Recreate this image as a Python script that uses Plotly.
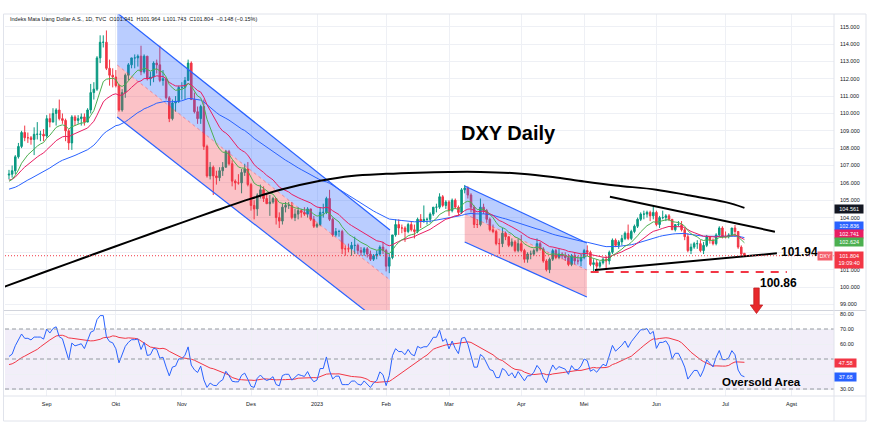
import pandas as pd
import plotly.graph_objects as go

# ---------------- calendar ----------------
start_date = "2022-08-16"
end_date = "2023-07-11"
closed_days = ["2022-12-26"]
warmup_start = "2022-06-01"
warmup_end = "2022-08-15"

# ---------------- daily OHLC (DXY) ----------------
opens = [
    106.45, 106.5, 106.7, 107.5, 108.1, 108.9, 108.6, 108.6, 108.5, 108.8, 108.8, 108.8,
    108.7, 109.7, 109.5, 110.0, 110.2, 109.7, 109.6, 109.0, 108.3, 109.8, 109.6, 109.7, 109.8, 109.5, 110.2, 111.2, 111.4, 113.2, 114.1, 114.1, 112.6, 112.2,
    112.1, 111.6, 110.2, 111.2, 112.2, 112.8, 113.2, 113.2, 113.3, 112.4, 113.3, 112.0, 112.1, 112.9, 112.8, 111.9, 112.0, 110.9, 109.7, 110.6, 110.7,
    111.5, 111.5, 111.9, 112.9, 110.8, 110.1, 109.7, 110.4, 108.1, 106.4, 106.9, 106.4, 106.3, 106.7, 106.9, 107.8, 107.1, 106.1, 106.0, 106.0, 106.6, 106.8,
    105.9, 104.7, 104.5, 105.3, 105.6, 105.1, 104.8, 104.9, 105.1, 104.0, 103.8, 104.6, 104.7, 104.7, 104.0, 104.2, 104.4, 104.3, 104.2, 104.5, 103.9,
    103.5, 103.6, 104.3, 104.3, 105.1, 103.9, 103.0, 103.2, 103.2, 102.2, 102.2, 102.2, 102.4, 102.4, 102.1, 102.0, 102.2, 101.9, 101.6, 101.8, 101.9, 102.3,
    102.1, 101.2, 101.7, 103.0, 103.6, 103.4, 103.4, 103.2, 103.6, 103.3, 103.2, 103.9, 103.8, 103.9, 103.9, 104.2, 104.6, 104.6, 105.2, 104.7,
    104.9, 104.4, 105.0, 104.6, 104.3, 105.6, 105.7, 105.3, 104.6, 103.6, 103.6, 104.6, 104.4, 103.9, 103.3, 103.2, 102.5, 102.5, 103.1, 102.9, 102.4, 102.6, 102.1,
    102.5, 102.1, 101.6, 101.9, 101.9, 102.1, 102.5, 102.2, 101.5, 101.0, 101.6, 102.1, 101.7, 101.9, 101.8, 101.7, 101.3, 101.8, 101.5, 101.5,
    101.7, 102.1, 102.0, 101.3, 101.4, 101.2, 101.4, 101.6, 101.5, 102.0, 102.7, 102.4, 102.6, 102.8, 103.1, 102.8, 103.2, 103.5, 103.9, 104.2, 104.2, 104.3, 104.1,
    104.3, 103.6, 104.0, 104.0, 104.1, 103.9, 103.3, 103.6, 103.6, 103.3, 102.9, 102.1, 102.3, 102.5, 102.5, 102.1, 102.4, 102.9, 102.7, 102.5, 103.0, 103.4,
    102.9, 102.9, 103.0, 103.4, 103.2, 102.3, 101.941,
]
highs = [
    106.75, 107.0, 107.6, 108.3, 109.0, 109.3, 108.9, 108.7, 109.2, 109.5, 109.0, 109.1,
    109.9, 110.0, 110.3, 110.3, 110.8, 110.0, 109.7, 109.1, 109.9, 109.9, 109.9, 110.0, 110.0, 110.3, 111.7, 111.8, 113.3, 114.5, 114.5, 114.78, 113.1, 112.6,
    112.5, 111.7, 111.4, 112.3, 112.9, 113.2, 113.4, 113.4, 113.9, 113.4, 113.3, 112.4, 113.0, 113.1, 113.9, 112.5, 112.0, 111.0, 110.8, 111.0, 111.6,
    111.8, 112.1, 113.1, 113.0, 111.2, 110.4, 110.5, 110.8, 108.2, 107.2, 107.0, 106.7, 106.9, 107.2, 107.9, 107.9, 107.3, 106.2, 106.5, 106.8, 107.1, 107.2,
    106.0, 105.0, 105.4, 105.9, 105.8, 105.4, 105.3, 105.2, 105.1, 104.3, 104.8, 104.9, 104.9, 104.9, 104.5, 104.6, 104.5, 104.6, 104.6, 104.5, 104.1,
    103.7, 104.6, 104.8, 105.2, 105.6, 104.0, 103.4, 103.3, 103.3, 102.4, 102.5, 102.6, 102.9, 102.5, 102.3, 102.3, 102.3, 102.1, 101.9, 102.1, 102.4, 102.6,
    102.2, 101.9, 103.0, 103.9, 103.9, 103.6, 103.5, 103.7, 103.8, 103.6, 104.0, 104.2, 104.7, 104.0, 104.3, 104.6, 104.8, 105.4, 105.3, 105.0,
    105.0, 105.1, 105.1, 104.7, 105.7, 105.88, 105.8, 105.4, 104.7, 103.9, 105.1, 104.8, 104.5, 104.0, 103.6, 103.3, 102.8, 103.4, 103.2, 102.9, 102.8, 102.7, 102.8,
    103.0, 102.2, 102.0, 102.1, 102.2, 102.8, 102.6, 102.3, 101.6, 101.7, 102.2, 102.2, 102.2, 102.0, 102.0, 101.9, 101.9, 102.0, 101.8, 101.9,
    102.2, 102.4, 102.1, 101.6, 101.6, 101.5, 101.7, 101.8, 102.1, 102.8, 102.8, 102.7, 103.0, 103.2, 103.6, 103.3, 103.6, 104.0, 104.3, 104.4, 104.4, 104.4, 104.7,
    104.4, 104.1, 104.4, 104.2, 104.2, 103.9, 103.6, 103.8, 103.8, 103.4, 103.1, 102.5, 102.6, 102.7, 102.7, 102.6, 103.0, 102.9, 102.8, 103.1, 103.5, 103.5,
    103.2, 103.1, 103.4, 103.57, 103.2, 102.4, 101.964,
]
lows = [
    106.2, 106.3, 106.5, 107.4, 108.0, 108.4, 108.3, 108.2, 107.6, 108.5, 108.4, 108.4,
    108.6, 109.2, 109.5, 109.3, 109.6, 109.4, 108.4, 107.9, 107.9, 109.3, 109.4, 109.3, 109.3, 109.5, 110.0, 110.8, 111.3, 112.9, 113.8, 112.5, 111.6, 111.5,
    111.5, 110.1, 110.1, 110.9, 111.9, 112.6, 112.6, 112.7, 112.2, 112.3, 111.9, 111.6, 111.8, 112.3, 111.8, 111.6, 110.8, 109.5, 109.6, 110.1, 110.6,
    110.8, 110.8, 111.9, 110.8, 110.0, 109.4, 109.4, 107.9, 106.3, 106.2, 105.3, 105.9, 106.1, 106.4, 106.9, 107.0, 105.8, 105.6, 105.9, 105.4, 106.4, 105.8,
    104.4, 103.9, 104.1, 105.1, 104.9, 104.8, 104.1, 104.8, 103.6, 103.4, 103.6, 104.3, 104.5, 103.9, 103.8, 103.9, 104.0, 104.1, 104.0, 103.8, 103.4,
    103.4, 103.5, 104.0, 104.2, 103.8, 102.9, 102.9, 102.9, 101.9, 101.8, 102.0, 101.8, 101.9, 101.9, 101.8, 101.8, 101.7, 101.5, 101.5, 101.6, 101.8, 101.9,
    100.9, 100.8, 101.6, 102.9, 103.0, 103.1, 102.6, 103.1, 103.2, 102.8, 103.1, 103.4, 103.7, 103.6, 103.7, 104.1, 104.3, 104.5, 104.6, 104.5,
    104.1, 104.3, 104.5, 104.1, 104.2, 105.4, 105.1, 104.3, 103.4, 103.4, 103.5, 104.2, 103.7, 103.2, 103.1, 102.4, 101.9, 102.3, 102.7, 102.3, 102.3, 102.0, 102.0,
    102.0, 101.4, 101.4, 101.6, 101.8, 102.0, 102.1, 101.4, 100.9, 100.8, 101.5, 101.6, 101.6, 101.6, 101.5, 101.2, 101.2, 101.3, 101.3, 101.2,
    101.6, 101.8, 101.2, 100.86, 101.0, 101.1, 101.3, 101.0, 101.3, 101.9, 102.3, 102.2, 102.4, 102.7, 102.7, 102.7, 103.1, 103.4, 103.8, 103.9, 104.0, 103.8, 103.9,
    103.5, 103.4, 103.9, 103.8, 103.8, 103.3, 103.2, 103.5, 103.2, 102.7, 102.0, 101.9, 102.2, 102.2, 102.0, 101.9, 102.3, 102.5, 102.4, 102.4, 102.9, 102.8,
    102.8, 102.8, 102.9, 102.9, 102.2, 101.8, 101.743,
]
closes = [
    106.5, 106.7, 107.5, 108.1, 108.9, 108.6, 108.6, 108.5, 108.8, 108.8, 108.8, 108.7,
    109.7, 109.5, 110.0, 110.2, 109.7, 109.6, 109.0, 108.3, 109.8, 109.6, 109.7, 109.8, 109.5, 110.2, 111.2, 111.4, 113.2, 114.1, 114.1, 112.6, 112.2, 112.1,
    111.6, 110.2, 111.2, 112.2, 112.8, 113.2, 113.2, 113.3, 112.4, 113.3, 112.0, 112.1, 112.9, 112.8, 111.9, 112.0, 110.9, 109.7, 110.6, 110.7, 111.5,
    111.5, 111.9, 112.9, 110.8, 110.1, 109.7, 110.4, 108.1, 106.4, 106.9, 106.4, 106.3, 106.7, 106.9, 107.8, 107.1, 106.1, 106.0, 106.0, 106.6, 106.8, 105.9,
    104.7, 104.5, 105.3, 105.6, 105.1, 104.8, 104.9, 105.1, 104.0, 103.8, 104.6, 104.7, 104.7, 104.0, 104.2, 104.4, 104.3, 104.2, 104.5, 103.9, 103.5,
    103.6, 104.3, 104.3, 105.1, 103.9, 103.0, 103.2, 103.2, 102.2, 102.2, 102.2, 102.4, 102.4, 102.1, 102.0, 102.2, 101.9, 101.6, 101.8, 101.9, 102.3, 102.1,
    101.2, 101.7, 103.0, 103.6, 103.4, 103.4, 103.2, 103.6, 103.3, 103.2, 103.9, 103.8, 103.9, 103.9, 104.2, 104.6, 104.6, 105.2, 104.7, 104.9,
    104.4, 105.0, 104.6, 104.3, 105.6, 105.7, 105.3, 104.6, 103.6, 103.6, 104.6, 104.4, 103.9, 103.3, 103.2, 102.5, 102.5, 103.1, 102.9, 102.4, 102.6, 102.1, 102.5,
    102.1, 101.6, 101.9, 101.9, 102.1, 102.5, 102.2, 101.5, 101.0, 101.6, 102.1, 101.7, 101.9, 101.8, 101.7, 101.3, 101.8, 101.5, 101.5, 101.7,
    102.1, 102.0, 101.3, 101.4, 101.2, 101.4, 101.6, 101.5, 102.0, 102.7, 102.4, 102.6, 102.8, 103.1, 102.8, 103.2, 103.5, 103.9, 104.2, 104.2, 104.3, 104.1, 104.3,
    103.6, 104.0, 104.0, 104.1, 103.9, 103.3, 103.6, 103.6, 103.3, 102.9, 102.1, 102.3, 102.5, 102.5, 102.1, 102.4, 102.9, 102.7, 102.5, 103.0, 103.4, 102.9,
    102.9, 103.0, 103.4, 103.2, 102.3, 101.9, 101.804,
]
# closes before the visible window (indicator history)
warmup_closes = [
    102.6, 101.8, 102.2, 102.4, 102.3, 102.6, 103.2, 104.1, 105.1, 105.5, 105.0, 103.8, 104.7, 104.5, 104.4, 104.2, 104.4, 104.2, 103.9, 104.5, 105.1, 104.7,
    105.1, 105.1, 106.5, 107.0, 107.0, 106.9, 108.0, 108.1, 108.0, 108.6, 108.1, 107.3, 106.7, 107.1, 106.6, 106.7, 106.5, 107.0, 106.4, 106.3, 105.9,
    105.4, 106.3, 106.5, 105.7, 106.6, 106.4, 106.4, 105.2, 105.1, 105.6, 106.5,
]
change_text = "\u22120.148 (\u22120.15%)"

# long moving average (black curve)
sma200_dates = ["2022-08-12", "2022-09-01", "2022-09-16", "2022-10-03", "2022-10-17", "2022-11-01", "2022-11-15",
                "2022-12-01", "2022-12-15", "2023-01-03", "2023-01-17", "2023-02-01", "2023-02-15", "2023-03-01",
                "2023-03-15", "2023-04-03", "2023-04-17", "2023-05-01", "2023-05-15", "2023-06-01", "2023-06-15",
                "2023-07-03", "2023-07-11"]
sma200_values = [99.98, 100.91, 101.63, 102.35, 103.0, 103.71, 104.35, 105.09, 105.63, 106.12, 106.40, 106.52,
                 106.59, 106.63, 106.63, 106.53, 106.34, 106.08, 105.85, 105.61, 105.29, 104.89, 104.561]

# hand-drawn objects (dates, prices)
ch1_dates = ["2022-10-03 10:00", "2023-02-02 05:00"]
ch1_top = [115.79, 103.29]
ch1_mid = [112.79, 100.41]
ch1_bot = [109.79, 97.53]
ch2_dates = ["2023-03-08 00:00", "2023-05-01 21:00"]
ch2_top = [105.82, 102.54]
ch2_mid = [104.21, 100.98]
ch2_bot = [102.59, 99.43]
tri_upper_dates = ["2023-05-11 05:00", "2023-07-24 17:00"]
tri_upper_prices = [105.20, 103.19]
tri_lower_dates = ["2023-05-04 10:00", "2023-07-25 08:00"]
tri_lower_prices = [100.98, 101.94]
support_dates = ["2023-05-03 02:00", "2023-07-28 12:00"]
support_price = 100.86

ma_labels = [("102.836", 102.836, "#2962ff", 11.8), ("102.741", 102.741, "#e91e63", 5.5),
             ("102.624", 102.624, "#4caf50", -0.8)]
rsi_labels = [("47.58", 47.58, "#f23645"), ("37.68", 37.68, "#2962ff")]

price_ticks = list(range(99, 116))
price_hidden = [102, 103]          # covered by the value tags
rsi_ticks = [30, 40, 50, 60, 70, 80]
rsi_hidden = [40, 50]              # covered by the value tags

month_ticks = ["2022-09-01", "2022-10-03", "2022-11-01", "2022-12-01", "2023-01-02", "2023-02-01",
               "2023-03-01", "2023-04-03", "2023-05-01", "2023-06-01", "2023-07-03", "2023-08-01"]
month_labels = ["Sep", "Okt", "Nov", "Des", "2023", "Feb", "Mar", "Apr", "Mei", "Jun", "Jul", "Agst"]

# ---------------- derived series ----------------
dates = [d for d in pd.bdate_range(start_date, end_date) if d.strftime("%Y-%m-%d") not in closed_days]
wdates = list(pd.bdate_range(warmup_start, warmup_end))
assert len(dates) == len(opens) == len(highs) == len(lows) == len(closes)
assert len(wdates) == len(warmup_closes)
nw = len(warmup_closes)
allc = pd.Series(warmup_closes + closes)
ema10 = allc.ewm(span=10, adjust=False).mean().iloc[nw:].tolist()
ema20 = allc.ewm(span=20, adjust=False).mean().iloc[nw:].tolist()
ema50 = allc.ewm(span=50, adjust=False).mean().iloc[nw:].tolist()
delta = allc.diff()
gain = delta.clip(lower=0).ewm(alpha=1 / 14, adjust=False).mean()
loss = (-delta.clip(upper=0)).ewm(alpha=1 / 14, adjust=False).mean()
rsi = 100 - 100 / (1 + gain / loss)
rsi_ma = rsi.rolling(14).mean()
rsi_v = rsi.iloc[nw:].tolist()
rsi_ma_v = rsi_ma.iloc[nw:].tolist()

# ---------------- pixel helpers for chrome ----------------
PL, PR, PT, PB = 5, 834, 14, 396
W, H = 870, 426
def fx(px):
    return (px - PL) / (PR - PL)
def fy(py):
    return (PB - py) / (PB - PT)

fig = go.Figure()

def poly(xs, ys, color):
    fig.add_trace(go.Scatter(x=xs, y=ys, fill="toself", fillcolor=color, mode="lines",
                             line=dict(width=0), hoverinfo="skip", showlegend=False))

def seg(xs, ys, color, width=1, dash=None, shape="linear", xa="x", ya="y"):
    fig.add_trace(go.Scatter(x=xs, y=ys, mode="lines", xaxis=xa, yaxis=ya,
                             line=dict(color=color, width=width, dash=dash, shape=shape),
                             hoverinfo="skip", showlegend=False))

BLUE_FILL = "rgba(41,98,255,0.32)"
PINK_FILL = "rgba(242,54,69,0.30)"
for d, t, m, b in [(ch1_dates, ch1_top, ch1_mid, ch1_bot), (ch2_dates, ch2_top, ch2_mid, ch2_bot)]:
    poly([d[0], d[1], d[1], d[0]], [t[0], t[1], m[1], m[0]], BLUE_FILL)
    poly([d[0], d[1], d[1], d[0]], [m[0], m[1], b[1], b[0]], PINK_FILL)
    seg(d, t, "#2962ff", 1.2)
    seg(d, b, "#2962ff", 1.2)
    seg(d, m, "rgba(242,54,69,0.45)", 1, dash="3px,3px")

fig.add_trace(go.Candlestick(
    x=dates, open=opens, high=highs, low=lows, close=closes,
    increasing=dict(line=dict(color="#089981", width=1), fillcolor="#089981"),
    decreasing=dict(line=dict(color="#f23645", width=1), fillcolor="#f23645"),
    whiskerwidth=0, hoverinfo="skip", showlegend=False))

seg(dates, ema50, "#2962ff", 1)
seg(dates, ema20, "#e91e63", 1)
seg(dates, ema10, "#4caf50", 1)
seg(sma200_dates, sma200_values, "#000000", 2, shape="spline")
seg(tri_upper_dates, tri_upper_prices, "#000000", 2)
seg(tri_lower_dates, tri_lower_prices, "#000000", 2)
seg(support_dates, [support_price, support_price], "#f23645", 2, dash="8px,7px")

# RSI pane
seg(dates, rsi_ma_v, "#f23645", 1, xa="x2", ya="y2")
seg(dates, rsi_v, "#2962ff", 1, xa="x2", ya="y2")

rb = [dict(bounds=["sat", "mon"]), dict(values=closed_days)]
xrange = ["2022-08-12 17:30", "2023-08-18 12:00"]
TICKFONT = dict(family="Liberation Sans, Arial, sans-serif", size=5.5, color="#131722")
GRID = "#eef0f5"

fig.update_layout(
    width=W, height=H, margin=dict(l=PL, r=W - PR, t=PT, b=H - PB),
    paper_bgcolor="white", plot_bgcolor="white", showlegend=False,
    font=dict(family="Liberation Sans, Arial, sans-serif"),
    xaxis=dict(domain=[0, 1], anchor="y", type="date", range=xrange, rangebreaks=rb,
               showticklabels=False, tickvals=month_ticks, showgrid=True, gridcolor=GRID,
               zeroline=False, rangeslider=dict(visible=False), fixedrange=True),
    yaxis=dict(domain=[fy(310), 1], anchor="x", side="right", range=[98.677, 115.728],
               tickvals=price_ticks,
               ticktext=["" if v in price_hidden else f"{v:.3f}" for v in price_ticks],
               showgrid=True, gridcolor=GRID, zeroline=False,
               tickfont=TICKFONT, ticks="", ticklabelstandoff=5),
    xaxis2=dict(domain=[0, 1], anchor="y2", type="date", range=xrange, rangebreaks=rb,
                tickvals=month_ticks, ticktext=month_labels, showgrid=True, gridcolor=GRID,
                zeroline=False, tickfont=TICKFONT, ticks="", ticklabelstandoff=3,
                rangeslider=dict(visible=False)),
    yaxis2=dict(domain=[0, fy(311)], anchor="x2", side="right", range=[25.33, 82],
                tickvals=rsi_ticks,
                ticktext=["" if v in rsi_hidden else f"{v:.2f}" for v in rsi_ticks],
                showgrid=True, gridcolor=GRID,
                zeroline=False, tickfont=TICKFONT, ticks="", ticklabelstandoff=5),
)

shapes = []
shapes.append(dict(type="rect", xref="paper", yref="y2", x0=0, x1=1, y0=30, y1=70,
                   fillcolor="rgba(126,87,194,0.10)", line=dict(width=0), layer="below"))
for lv in [70, 50, 30]:
    shapes.append(dict(type="line", xref="paper", yref="y2", x0=0, x1=1, y0=lv, y1=lv,
                       line=dict(color="#9598a1", width=1, dash="4px,3px")))
shapes.append(dict(type="line", xref="paper", yref="y", x0=0, x1=1, y0=closes[-1], y1=closes[-1],
                   line=dict(color="#f23645", width=1, dash="1px,2px")))
shapes.append(dict(type="line", xref="paper", yref="paper", x0=fx(4), x1=fx(866), y0=fy(310.5), y1=fy(310.5),
                   line=dict(color="#d1d4dc", width=1)))
shapes.append(dict(type="line", xref="paper", yref="paper", x0=1, x1=1, y0=fy(421), y1=1,
                   line=dict(color="#e0e3eb", width=1)))
shapes.append(dict(type="line", xref="paper", yref="paper", x0=fx(4), x1=fx(866), y0=0, y1=0,
                   line=dict(color="#e0e3eb", width=1)))
shapes.append(dict(type="rect", xref="paper", yref="paper", x0=fx(3.5), x1=fx(866), y0=fy(421), y1=fy(14),
                   line=dict(color="#e0e3eb", width=1)))
ax0, ax1, hx0, hx1, tipx = 753.8, 759.2, 750.3, 762.7, 756.5
ay0, ay1, tipy = 288, 305, 313.5
arrow_path = (f"M {fx(ax0)} {fy(ay0)} L {fx(ax1)} {fy(ay0)} L {fx(ax1)} {fy(ay1)} L {fx(hx1)} {fy(ay1)} "
              f"L {fx(tipx)} {fy(tipy)} L {fx(hx0)} {fy(ay1)} L {fx(ax0)} {fy(ay1)} Z")
shapes.append(dict(type="path", xref="paper", yref="paper", path=arrow_path,
                   fillcolor="#e8282b", line=dict(color="#c41e22", width=0.8)))
fig.update_layout(shapes=shapes)

BOLD = "Liberation Sans, Arial, sans-serif"
ann = []
ann.append(dict(xref="paper", yref="paper", x=fx(8), y=fy(19), xanchor="left", yanchor="middle",
                text=(f"Indeks Mata Uang Dollar A.S., 1D, TVC&nbsp;&nbsp;O{opens[-1]:.3f}&nbsp;&nbsp;H{highs[-1]:.3f}"
                      f"&nbsp;&nbsp;L{lows[-1]:.3f}&nbsp;&nbsp;C{closes[-1]:.3f}&nbsp;&nbsp;{change_text}"),
                showarrow=False, font=dict(size=5.5, color="#131722")))
ann.append(dict(x="2023-03-27 19:00", y=108.87, xref="x", yref="y", text="<b>DXY Daily</b>",
                showarrow=False, font=dict(family=BOLD, size=20, color="#000000")))
ann.append(dict(x=tri_lower_dates[1], y=tri_lower_prices[1], xref="x", yref="y", xanchor="left",
                xshift=2, yshift=1, text=f"<b>{tri_lower_prices[1]:.2f}</b>", showarrow=False,
                font=dict(family=BOLD, size=12, color="#000000")))
ann.append(dict(x=support_dates[1], y=support_price, xref="x", yref="y", xanchor="center",
                xshift=-8, yshift=-11, text=f"<b>{support_price:.2f}</b>", showarrow=False,
                font=dict(family=BOLD, size=12, color="#000000")))
ann.append(dict(x="2023-07-18 07:00", y=34.7, xref="x2", yref="y2", text="<b>Oversold Area</b>",
                showarrow=False, font=dict(family=BOLD, size=11.5, color="#000000")))

def tag(text, y, bg, yref="y", yshift=0, width=26, yanchor="middle", size=5.5):
    return dict(x=1, xref="paper", xanchor="left", y=y, yref=yref, yanchor=yanchor, yshift=yshift,
                text=text, showarrow=False, font=dict(size=size, color="white"), bgcolor=bg,
                borderpad=1.2, width=width, align="center")

ann.append(tag(f"{sma200_values[-1]:.3f}", sma200_values[-1], "#131722", yshift=-1))
for txt, val, col, sh in ma_labels:
    ann.append(tag(txt, val, col, yshift=sh))
ann.append(tag(f"{closes[-1]:.3f}<br>19:09:40", closes[-1], "#f23645", yshift=4.5, yanchor="top"))
ann.append(dict(x=1, xref="paper", xanchor="right", xshift=-1, y=closes[-1], yref="y", yanchor="middle",
                text="DXY", showarrow=False, font=dict(size=5.5, color="white"), bgcolor="#f5606c",
                borderpad=1.2, width=12))
for txt, val, col in rsi_labels:
    ann.append(tag(txt, val, col, yref="y2", width=19))
fig.update_layout(annotations=ann)

fig.write_html("out.html")
